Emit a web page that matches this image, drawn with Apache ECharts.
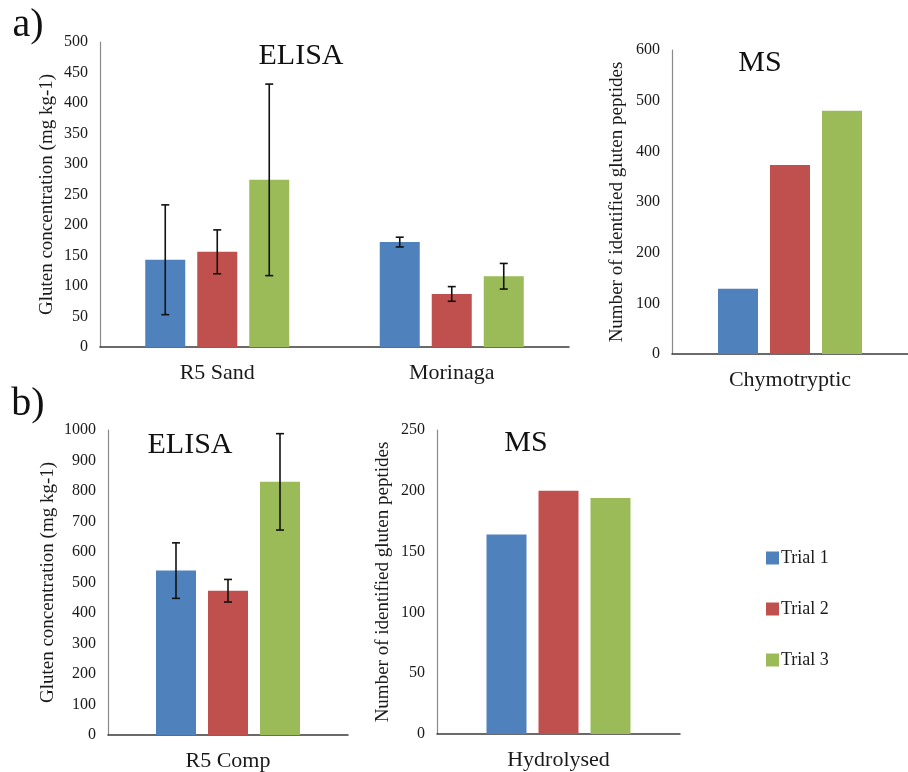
<!DOCTYPE html>
<html>
<head>
<meta charset="utf-8">
<script src="https://cdn.jsdelivr.net/npm/echarts@6/dist/echarts.min.js"></script>
<style>html,body{margin:0;padding:0;background:#fff}#c{width:908px;height:772px}</style>
</head>
<body>
<div id="c"></div>
<script>
const trials = ['Trial 1', 'Trial 2', 'Trial 3'];
const colors = ['#4F81BD', '#C0504D', '#9BBB59'];

const elisaACats = ['R5 Sand', 'Morinaga'];
const elisaA = [[143, 172], [156, 87], [274, 116]];
const elisaAErr = [[90, 8], [36, 12], [157, 21]];

const msACats = ['Chymotryptic'];
const msA = [[129], [373], [480]];

const elisaBCats = ['R5 Comp'];
const elisaB = [[539], [473], [830]];
const elisaBErr = [[91], [37], [158]];

const msBCats = ['Hydrolysed'];
const msB = [[164], [200], [194]];

const FONT = '"Liberation Serif", "Times New Roman", serif';
const TXT = '#1a1a1a';

const chart = echarts.init(document.getElementById('c'), null, {renderer: 'canvas'});

const grids = [
  {left: 100, top: 42, width: 469, height: 305},
  {left: 672, top: 50, width: 246, height: 304},
  {left: 108, top: 430, width: 240, height: 305},
  {left: 437, top: 430, width: 243, height: 304}
];

function xAx(i, cats) {
  return {
    type: 'category', gridIndex: i, data: cats,
    axisTick: {show: false},
    axisLine: {lineStyle: {color: '#3a3a3a', width: 1.5}},
    axisLabel: {fontFamily: FONT, fontSize: 22, color: TXT, margin: 15}
  };
}
function yAx(i, max, interval, name, gap) {
  return {
    type: 'value', gridIndex: i, min: 0, max: max, interval: interval,
    name: name, nameLocation: 'middle', nameGap: gap, nameMoveOverlap: false,
    nameTextStyle: {fontFamily: FONT, fontSize: 19, color: TXT},
    axisLine: {show: true, lineStyle: {color: '#8a8a8a', width: 1.2}},
    axisTick: {show: false},
    splitLine: {show: false},
    axisLabel: {fontFamily: FONT, fontSize: 16, color: TXT, margin: 12, formatter: v => String(v)}
  };
}

const series = [];
function addBars(gi, vals, errs) {
  vals.forEach((v, t) => {
    series.push({
      type: 'bar', name: trials[t], xAxisIndex: gi, yAxisIndex: gi,
      data: v, barWidth: 40, barGap: '30%',
      itemStyle: {color: colors[t]}
    });
  });
  if (errs) {
    errs.forEach((e, t) => {
      series.push({
        type: 'custom', xAxisIndex: gi, yAxisIndex: gi, z: 10,
        data: vals[t].map((v, k) => [k, v, e[k]]),
        encode: {x: 0, y: 1},
        renderItem: function (params, api) {
          const off = (t - 1) * 52;
          const hi = api.coord([api.value(0), api.value(1) + api.value(2)]);
          const lo = api.coord([api.value(0), api.value(1) - api.value(2)]);
          const x = hi[0] + off;
          const st = {stroke: '#111', lineWidth: 1.6};
          return {type: 'group', children: [
            {type: 'line', shape: {x1: x, y1: hi[1], x2: x, y2: lo[1]}, style: st},
            {type: 'line', shape: {x1: x - 4, y1: hi[1], x2: x + 4, y2: hi[1]}, style: st},
            {type: 'line', shape: {x1: x - 4, y1: lo[1], x2: x + 4, y2: lo[1]}, style: st}
          ]};
        }
      });
    });
  }
}
addBars(0, elisaA, elisaAErr);
addBars(1, msA, null);
addBars(2, elisaB, elisaBErr);
addBars(3, msB, null);

function label(text, x, y, size) {
  return {type: 'text', x: x, y: y, style: {text: text, fontFamily: FONT, fontSize: size, fill: '#111', align: 'center', verticalAlign: 'middle'}};
}

chart.setOption({
  animation: false,
  grid: grids,
  xAxis: [xAx(0, elisaACats), xAx(1, msACats), xAx(2, elisaBCats), xAx(3, msBCats)],
  yAxis: [
    yAx(0, 500, 50, 'Gluten concentration (mg kg-1)', 43),
    yAx(1, 600, 100, 'Number of identified gluten peptides', 45),
    yAx(2, 1000, 100, 'Gluten concentration (mg kg-1)', 50),
    yAx(3, 250, 50, 'Number of identified gluten peptides', 44)
  ],
  legend: {
    data: trials, orient: 'vertical', left: 761, top: 544,
    icon: 'rect', itemWidth: 13, itemHeight: 13, itemGap: 33,
    textStyle: {fontFamily: FONT, fontSize: 18, color: TXT, padding: [0, 0, 0, -3]}
  },
  graphic: [
    label('a)', 28, 25, 40),
    label('b)', 28, 404, 40),
    label('ELISA', 301, 56, 30),
    label('MS', 760, 63, 30),
    label('ELISA', 190, 445, 30),
    label('MS', 526, 443, 30)
  ],
  series: series
});
</script>
</body>
</html>
